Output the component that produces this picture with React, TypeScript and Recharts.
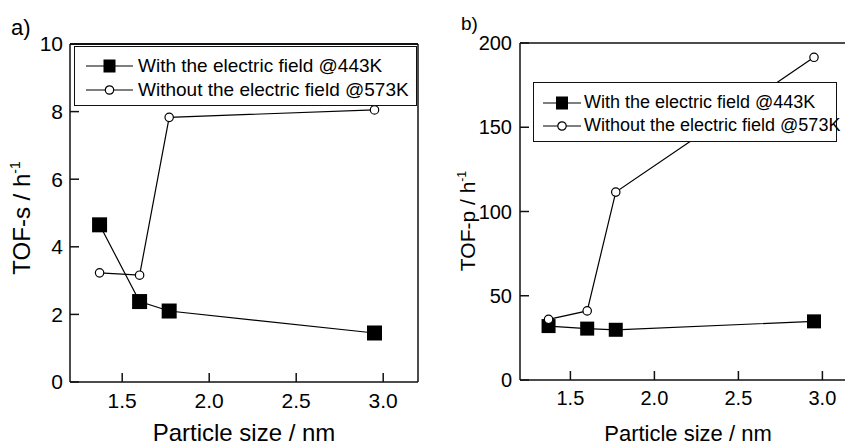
import React from 'react';
import { LineChart, Line, XAxis, YAxis, ReferenceLine, Legend } from 'recharts';

// particle sizes shared by both panels
const particleSize = [1.37, 1.6, 1.77, 2.95];
const tofSWithField = [4.65, 2.38, 2.1, 1.45];
const tofSWithoutField = [3.23, 3.16, 7.83, 8.05];
const tofPWithField = [32, 30.5, 29.8, 34.8];
const tofPWithoutField = [36, 41, 111.5, 191.5];

const seriesNames = ['With the electric field @443K', 'Without the electric field @573K'];
const xTicks = [1.5, 2.0, 2.5, 3.0];
const tofSTicks = [0, 2, 4, 6, 8, 10];
const tofPTicks = [0, 50, 100, 150, 200];

const FONT = '"Liberation Sans", Arial, Helvetica, sans-serif';
const INK = '#111';

const tofSData = particleSize.map((size, i) => ({
  size,
  withField: tofSWithField[i],
  withoutField: tofSWithoutField[i],
}));
const tofPData = particleSize.map((size, i) => ({
  size,
  withField: tofPWithField[i],
  withoutField: tofPWithoutField[i],
}));

const squareDot = (side: number) => (props: any) => {
  const { cx, cy, index } = props;
  if (cx == null || cy == null) return <g key={`sq-${index}`} />;
  return <rect key={`sq-${index}`} x={cx - side / 2} y={cy - side / 2} width={side} height={side} fill="#000" />;
};

const openDot = { r: 4.2, fill: '#fff', stroke: '#000', strokeWidth: 1.2 };

function XTitle({ viewBox, baseline, size }: any) {
  const vb = viewBox || { x: 0, y: 0, width: 0, height: 0 };
  return (
    <text x={vb.x + vb.width / 2} y={vb.y + baseline} textAnchor="middle" fontFamily={FONT} fontSize={size} fill="#000">
      Particle size / nm
    </text>
  );
}

function YTitle({ viewBox, text, dx, cy, size }: any) {
  const x = (viewBox?.x ?? 0) + dx;
  return (
    <text x={x} y={cy} transform={`rotate(-90 ${x} ${cy})`} textAnchor="middle" fontFamily={FONT} fontSize={size} fill="#000">
      <tspan>{text}</tspan>
      <tspan fontSize={size * 0.58} dy={-size * 0.42}>-1</tspan>
    </text>
  );
}

function LegendBox({ payload, fontSize, rowHeight, padTop, padLeft, sample, gap }: any) {
  const items = payload && payload.length ? payload : seriesNames.map((value) => ({ value }));
  return (
    <div
      style={{
        boxSizing: 'border-box',
        width: '100%',
        height: '100%',
        border: `1px solid ${INK}`,
        background: '#fff',
        fontFamily: FONT,
        fontSize,
        color: '#000',
        paddingTop: padTop,
        paddingLeft: padLeft,
        whiteSpace: 'nowrap',
      }}
    >
      {items.map((entry: any, i: number) => (
        <div key={entry.value} style={{ display: 'flex', alignItems: 'center', height: rowHeight }}>
          <svg width={sample} height={18} style={{ marginRight: gap, flex: 'none' }}>
            <line x1={0} y1={9} x2={sample} y2={9} stroke="#000" strokeWidth={1.2} />
            {i === 0 ? (
              <rect x={sample / 2 - 6} y={2.5} width={12} height={13} fill="#000" />
            ) : (
              <circle cx={sample / 2} cy={9} r={4.2} fill="#fff" stroke="#000" strokeWidth={1.2} />
            )}
          </svg>
          <span>{entry.value}</span>
        </div>
      ))}
    </div>
  );
}

const tickStyle = (size: number) => ({ fill: '#000', fontSize: size, fontFamily: FONT });

export default function App() {
  return (
    <div style={{ position: 'fixed', left: 0, top: 0, width: 845, height: 447, overflow: 'hidden', background: '#fff' }}>
      <div style={{ position: 'absolute', left: 11, top: 15, fontFamily: FONT, fontSize: 22 }}>a)</div>
      <div style={{ position: 'absolute', left: 461, top: 13, fontFamily: FONT, fontSize: 19 }}>b)</div>

      <div style={{ position: 'absolute', left: 0, top: 0 }}>
        <LineChart width={430} height={447} data={tofSData} margin={{ top: 44, right: 12, bottom: 0, left: 0 }}>
          <XAxis
            dataKey="size"
            type="number"
            domain={[1.2, 3.2]}
            ticks={xTicks}
            allowDataOverflow
            tickFormatter={(v: number) => v.toFixed(1)}
            tickSize={-9}
            tickMargin={20}
            height={65}
            stroke={INK}
            strokeWidth={1.5}
            tick={tickStyle(21)}
            label={(p: any) => <XTitle {...p} baseline={59} size={24} />}
          />
          <YAxis
            type="number"
            domain={[0, 10]}
            ticks={tofSTicks}
            allowDataOverflow
            width={70}
            tickSize={-9}
            tickMargin={16}
            stroke={INK}
            strokeWidth={1.5}
            tick={tickStyle(21)}
            label={(p: any) => <YTitle {...p} text="TOF-s / h" dx={30} cy={218} size={24} />}
          />
          <ReferenceLine y={10} stroke={INK} strokeWidth={2} />
          <ReferenceLine x={3.2} stroke={INK} strokeWidth={1.5} />
          <Legend
            layout="horizontal"
            verticalAlign="middle"
            align="center"
            wrapperStyle={{ left: 74, top: 46, width: 343, height: 60 }}
            content={(p: any) => (
              <LegendBox {...p} fontSize={19} rowHeight={24} padTop={7} padLeft={11} sample={47} gap={5} />
            )}
          />
          <Line
            name={seriesNames[0]}
            dataKey="withField"
            stroke="#000"
            strokeWidth={1.2}
            dot={squareDot(15)}
            isAnimationActive={false}
          />
          <Line
            name={seriesNames[1]}
            dataKey="withoutField"
            stroke="#000"
            strokeWidth={1.2}
            dot={openDot}
            isAnimationActive={false}
          />
        </LineChart>
      </div>

      <div style={{ position: 'absolute', left: 440, top: 0 }}>
        <LineChart width={426} height={447} data={tofPData} margin={{ top: 43, right: 10, bottom: 0, left: 0 }}>
          <XAxis
            dataKey="size"
            type="number"
            domain={[1.2, 3.2]}
            ticks={xTicks}
            allowDataOverflow
            tickFormatter={(v: number) => v.toFixed(1)}
            tickSize={-9}
            tickMargin={20}
            height={67}
            stroke={INK}
            strokeWidth={1.5}
            tick={tickStyle(20)}
            label={(p: any) => <XTitle {...p} baseline={61} size={22} />}
          />
          <YAxis
            type="number"
            domain={[0, 200]}
            ticks={tofPTicks}
            allowDataOverflow
            width={80}
            tickSize={-9}
            tickMargin={17}
            stroke={INK}
            strokeWidth={1.5}
            tick={tickStyle(20)}
            label={(p: any) => <YTitle {...p} text="TOF-p / h" dx={35} cy={221} size={21} />}
          />
          <ReferenceLine y={200} stroke={INK} strokeWidth={1.5} />
          <Legend
            layout="horizontal"
            verticalAlign="middle"
            align="center"
            wrapperStyle={{ left: 93, top: 82, width: 304, height: 60 }}
            content={(p: any) => (
              <LegendBox {...p} fontSize={18} rowHeight={23} padTop={8} padLeft={9} sample={38} gap={3} />
            )}
          />
          <Line
            name={seriesNames[0]}
            dataKey="withField"
            stroke="#000"
            strokeWidth={1.2}
            dot={squareDot(14)}
            isAnimationActive={false}
          />
          <Line
            name={seriesNames[1]}
            dataKey="withoutField"
            stroke="#000"
            strokeWidth={1.2}
            dot={openDot}
            isAnimationActive={false}
          />
        </LineChart>
      </div>
    </div>
  );
}
